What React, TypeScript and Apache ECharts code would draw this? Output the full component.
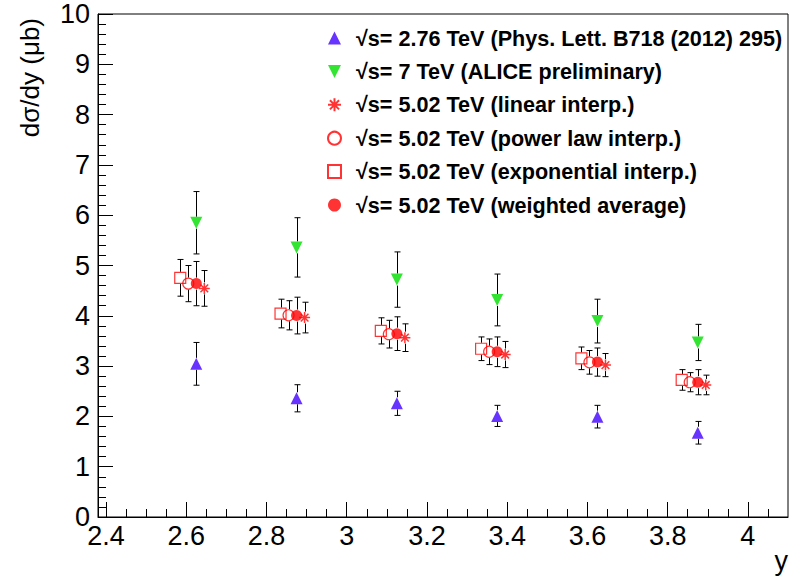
import React, { useEffect, useRef } from "react";
import * as echarts from "echarts";

const FONT = "'Liberation Sans', Arial, Helvetica, sans-serif";

// Legend / series names
const names = [
  "√s= 2.76 TeV (Phys. Lett. B718 (2012) 295)",
  "√s= 7 TeV (ALICE preliminary)",
  "√s= 5.02 TeV (linear interp.)",
  "√s= 5.02 TeV (power law interp.)",
  "√s= 5.02 TeV (exponential interp.)",
  "√s= 5.02 TeV (weighted average)",
];

// 2.76 TeV
const x276 = [2.625, 2.875, 3.125, 3.375, 3.625, 3.875];
const v276 = [3.045, 2.36, 2.26, 2.01, 1.995, 1.675];
const e276 = [0.425, 0.27, 0.24, 0.21, 0.225, 0.225];

// 7 TeV
const x7 = [2.625, 2.875, 3.125, 3.375, 3.625, 3.875];
const v7 = [5.85, 5.36, 4.72, 4.315, 3.895, 3.47];
const e7 = [0.62, 0.59, 0.55, 0.515, 0.435, 0.36];

// 5.02 TeV linear interpolation
const xLin = [2.645, 2.895, 3.145, 3.395, 3.645, 3.895];
const vLin = [4.545, 3.965, 3.565, 3.23, 3.02, 2.625];
const eLin = [0.355, 0.305, 0.275, 0.26, 0.23, 0.195];

// 5.02 TeV power law interpolation
const xPow = [2.605, 2.855, 3.105, 3.355, 3.605, 3.855];
const vPow = [4.64, 4.01, 3.635, 3.285, 3.075, 2.68];
const ePow = [0.36, 0.29, 0.275, 0.255, 0.235, 0.19];

// 5.02 TeV exponential interpolation
const xExp = [2.585, 2.835, 3.085, 3.335, 3.585, 3.835];
const vExp = [4.755, 4.045, 3.7, 3.345, 3.155, 2.725];
const eExp = [0.365, 0.285, 0.26, 0.235, 0.225, 0.205];

// 5.02 TeV weighted average
const xAvg = [2.625, 2.875, 3.125, 3.375, 3.625, 3.875];
const vAvg = [4.64, 4.005, 3.645, 3.285, 3.08, 2.68];
const eAvg = [0.44, 0.365, 0.335, 0.295, 0.28, 0.25];

// axis ticks
const xMajorTicks = [2.4, 2.6, 2.8, 3.0, 3.2, 3.4, 3.6, 3.8, 4.0];
const xMinorTicks: number[] = [];
for (let i = 0; i <= 34; i++) {
  const v = +(2.4 + i * 0.05).toFixed(2);
  if (i % 4 !== 0 && v < 4.1) xMinorTicks.push(v);
}

const BLUE = "#4000ff";
const GREEN = "#00dd00";
const RED = "#ff0000";

const STAR = "path://M5,0L5,10M0,5L10,5M1.5,1.5L8.5,8.5M8.5,1.5L1.5,8.5";
const DOWN_TRIANGLE = "path://M0,0L10,0L5,10Z";

const pts = (xs: number[], vs: number[]) => xs.map((x, i) => [x, vs[i]]);

export default function App() {
  const ref = useRef<HTMLDivElement>(null);
  useEffect(() => {
    if (!ref.current) return;
    const chart = echarts.init(ref.current, null, { renderer: "svg" });

    const errData: number[][] = [];
    const add = (xs: number[], vs: number[], es: number[]) =>
      xs.forEach((x, i) => errData.push([x, vs[i], es[i]]));
    add(x276, v276, e276);
    add(x7, v7, e7);
    add(xExp, vExp, eExp);
    add(xPow, vPow, ePow);
    add(xAvg, vAvg, eAvg);
    add(xLin, vLin, eLin);

    const lineStyle = { stroke: "#000", lineWidth: 1 };

    const option: any = {
      animation: false,
      backgroundColor: "#fff",
      textStyle: { fontFamily: FONT },
      grid: {
        left: 98,
        right: 3,
        top: 14,
        bottom: 66,
        show: true,
        borderColor: "#000",
        borderWidth: 1,
        backgroundColor: "transparent",
      },
      legend: {
        orient: "vertical",
        left: 322,
        top: 22,
        itemWidth: 13,
        itemHeight: 13,
        itemGap: 11.4,
        selectedMode: false,
        data: names,
        textStyle: {
          fontFamily: FONT,
          fontSize: 21.6,
          fontWeight: "bold",
          color: "#000",
          lineHeight: 22,
          padding: [0, 0, 0, 10],
        },
      },
      xAxis: [
        {
          type: "value",
          min: 2.38,
          max: 4.1,
          position: "bottom",
          axisLine: { show: true, onZero: false, lineStyle: { color: "#000", width: 1 } },
          axisTick: {
            show: true,
            inside: true,
            length: 15,
            customValues: xMajorTicks,
            lineStyle: { color: "#000", width: 1 },
          },
          axisLabel: {
            show: true,
            customValues: xMajorTicks,
            fontSize: 27,
            color: "#000",
            fontFamily: FONT,
            margin: 5,
            formatter: (v: number) => String(+v.toFixed(2)),
          },
          splitLine: { show: false },
        },
        {
          type: "value",
          min: 2.38,
          max: 4.1,
          position: "bottom",
          axisLine: { show: false, onZero: false },
          axisTick: {
            show: true,
            inside: true,
            length: 8,
            customValues: xMinorTicks,
            lineStyle: { color: "#000", width: 1 },
          },
          axisLabel: { show: false },
          splitLine: { show: false },
        },
      ],
      yAxis: {
        type: "value",
        min: 0,
        max: 10,
        interval: 1,
        axisLine: { show: true, onZero: false, lineStyle: { color: "#000", width: 1 } },
        axisTick: { show: true, inside: true, length: 15, lineStyle: { color: "#000", width: 1 } },
        minorTick: { show: true, splitNumber: 5, length: 8, lineStyle: { color: "#000", width: 1 } },
        axisLabel: { fontSize: 27, color: "#000", fontFamily: FONT, margin: 8 },
        splitLine: { show: false },
        minorSplitLine: { show: false },
      },
      graphic: [
        {
          type: "text",
          x: 30,
          y: 18,
          rotation: Math.PI / 2,
          style: {
            text: "dσ/dy (μb)",
            font: `26px ${FONT}`,
            fill: "#000",
            align: "right",
            verticalAlign: "middle",
          },
        },
        {
          type: "text",
          x: 788,
          y: 561,
          style: {
            text: "y",
            font: `27px ${FONT}`,
            fill: "#000",
            align: "right",
            verticalAlign: "middle",
          },
        },
      ],
      series: [
        {
          type: "custom",
          name: "errors",
          xAxisIndex: 0,
          data: errData,
          z: 1,
          silent: true,
          renderItem: (params: any, api: any) => {
            const x = api.value(0);
            const y = api.value(1);
            const e = api.value(2);
            const c = api.coord([x, y]);
            const t = api.coord([x, y + e]);
            const b = api.coord([x, y - e]);
            const gap = 6;
            const cap = 3;
            const px = Math.round(c[0]) + 0.5;
            const children: any[] = [];
            if (c[1] - gap > t[1])
              children.push({ type: "line", shape: { x1: px, y1: t[1], x2: px, y2: c[1] - gap }, style: lineStyle });
            if (c[1] + gap < b[1])
              children.push({ type: "line", shape: { x1: px, y1: c[1] + gap, x2: px, y2: b[1] }, style: lineStyle });
            children.push({ type: "line", shape: { x1: px - cap, y1: t[1], x2: px + cap, y2: t[1] }, style: lineStyle });
            children.push({ type: "line", shape: { x1: px - cap, y1: b[1], x2: px + cap, y2: b[1] }, style: lineStyle });
            return { type: "group", children };
          },
        },
        {
          type: "scatter",
          name: names[0],
          data: pts(x276, v276),
          symbol: "triangle",
          symbolSize: 12,
          itemStyle: { color: BLUE },
          z: 3,
        },
        {
          type: "scatter",
          name: names[1],
          data: pts(x7, v7),
          symbol: DOWN_TRIANGLE,
          symbolSize: 12,
          itemStyle: { color: GREEN },
          z: 3,
        },
        {
          type: "scatter",
          name: names[4],
          data: pts(xExp, vExp),
          symbol: "rect",
          symbolSize: 11,
          itemStyle: { color: "rgba(255,255,255,0)", borderColor: RED, borderWidth: 1.2 },
          z: 3,
        },
        {
          type: "scatter",
          name: names[3],
          data: pts(xPow, vPow),
          symbol: "circle",
          symbolSize: 11,
          itemStyle: { color: "rgba(255,255,255,0)", borderColor: RED, borderWidth: 1.2 },
          z: 3,
        },
        {
          type: "scatter",
          name: names[5],
          data: pts(xAvg, vAvg),
          symbol: "circle",
          symbolSize: 11,
          itemStyle: { color: RED },
          z: 3,
        },
        {
          type: "scatter",
          name: names[2],
          data: pts(xLin, vLin),
          symbol: STAR,
          symbolSize: 11,
          itemStyle: { color: "rgba(255,255,255,0)", borderColor: RED, borderWidth: 1.5 },
          z: 3,
        },
      ],
    };
    chart.setOption(option);
    return () => chart.dispose();
  }, []);

  return <div ref={ref} style={{ width: 791, height: 583, position: "absolute", left: 0, top: 0 }} />;
}
